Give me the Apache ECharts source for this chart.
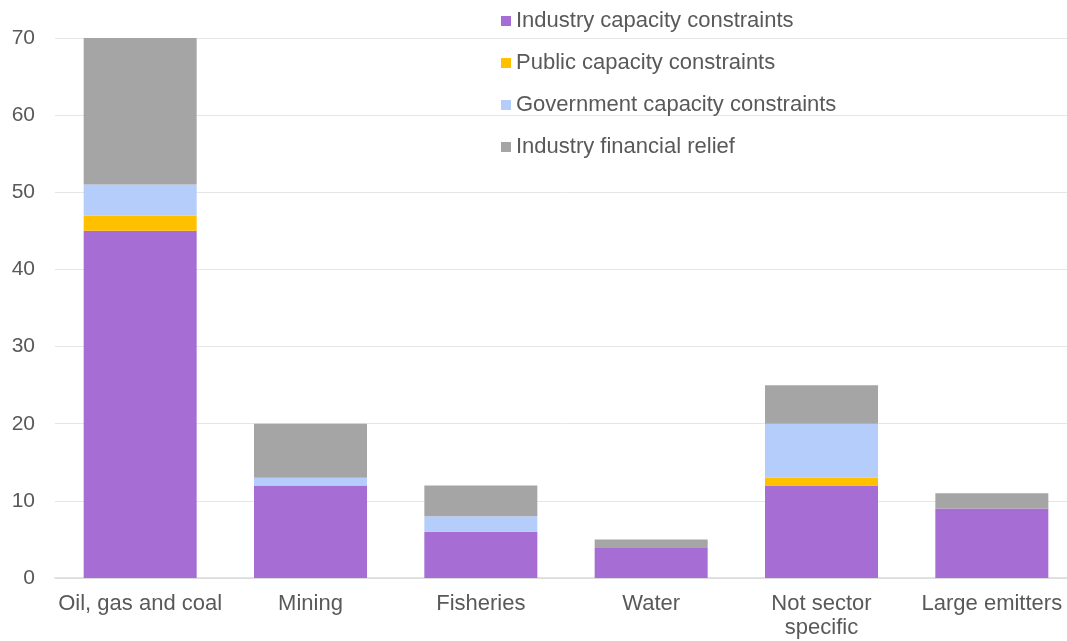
<!DOCTYPE html>
<html>
<head>
<meta charset="utf-8">
<script src="https://cdn.jsdelivr.net/npm/echarts@6/dist/echarts.min.js"></script>
<style>html,body{margin:0;padding:0;background:#fff}#c{width:1067px;height:641px}</style>
</head>
<body>
<div id="c"></div>
<script>
var categories = ['Oil, gas and coal', 'Mining', 'Fisheries', 'Water', 'Not sector\nspecific', 'Large emitters'];
var industryCapacity = [45, 12, 6, 4, 12, 9];
var publicCapacity = [2, 0, 0, 0, 1, 0];
var governmentCapacity = [4, 1, 2, 0, 7, 0];
var industryFinancial = [19, 7, 4, 1, 5, 2];
var yTicks = [0, 10, 20, 30, 40, 50, 60, 70];

var names = ['Industry capacity constraints', 'Public capacity constraints', 'Government capacity constraints', 'Industry financial relief'];
var colors = ['#a66dd4', '#ffc000', '#b4cdfa', '#a5a5a5'];
var values = [industryCapacity, publicCapacity, governmentCapacity, industryFinancial];

var chart = echarts.init(document.getElementById('c'));
chart.setOption({
  animation: false,
  textStyle: {fontFamily: 'Liberation Sans, Arial, sans-serif'},
  grid: {left: 55, width: 1022, top: 38, bottom: 63, containLabel: false, outerBoundsMode: 'none'},
  legend: {
    orient: 'vertical',
    left: 496,
    top: 4,
    icon: 'rect',
    itemWidth: 10,
    itemHeight: 10,
    itemGap: 18,
    textStyle: {fontSize: 22, color: '#595959', lineHeight: 24, fontFamily: 'Liberation Sans, Arial, sans-serif'},
    data: names
  },
  xAxis: {
    type: 'category',
    data: categories,
    axisTick: {show: false},
    axisLine: {lineStyle: {color: '#d9d9d9', width: 1.5}},
    axisLabel: {color: '#595959', fontSize: 22, margin: 14, lineHeight: 24, interval: 0}
  },
  yAxis: {
    type: 'value',
    min: yTicks[0],
    max: yTicks[yTicks.length - 1],
    interval: 10,
    axisLine: {show: false},
    axisTick: {show: false},
    splitLine: {lineStyle: {color: '#e6e6e6', width: 1}},
    axisLabel: {color: '#595959', fontSize: 21, margin: 20}
  },
  series: names.map(function (n, i) {
    return {
      name: n,
      type: 'bar',
      stack: 'total',
      barWidth: 113,
      itemStyle: {color: colors[i]},
      data: values[i]
    };
  })
});
</script>
</body>
</html>
